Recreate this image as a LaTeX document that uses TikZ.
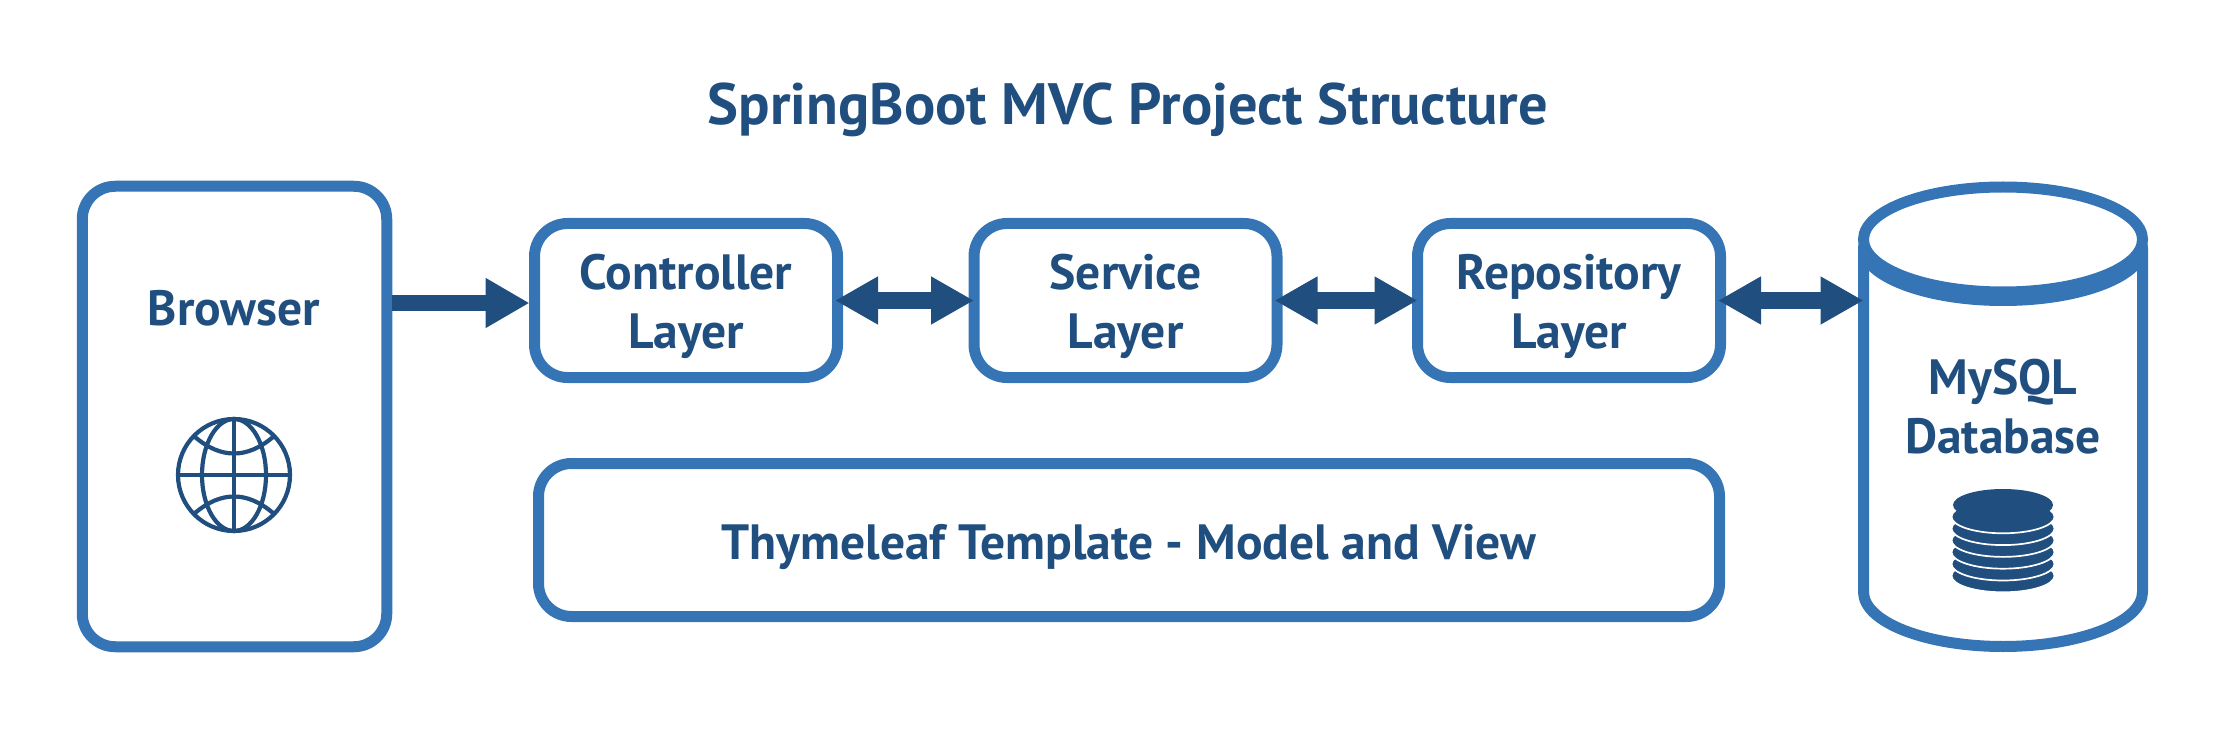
\documentclass[tikz,border=0pt]{standalone}
\usepackage{fontspec}
\setmainfont{PT Sans}
\usetikzlibrary{arrows.meta,positioning,calc}
\definecolor{LayerBlue}{HTML}{3574B5}
\definecolor{LayerDark}{HTML}{1F4E7F}
\tikzset{
  layer node/.style={draw=LayerBlue,fill=white,rounded corners=3.3mm,line width=1.1mm,outer sep=0pt,
    align=center,text=LayerDark,label font,minimum height=15.4mm,minimum width=30.3mm,inner sep=0pt},
  two lines/.style={text height=9.6mm,text depth=0pt},
  label font/.style={font=\fontsize{14.1}{16.8}\selectfont\bfseries},
  plain label/.style={text=LayerDark,label font,align=center,inner sep=0pt},
  flow arrow/.style={-{Triangle[length=4.4mm,width=4.7mm]},draw=LayerDark,line width=1.65mm},
  both arrow/.style={{Triangle[length=4.3mm,width=4.5mm]}-{Triangle[length=4.3mm,width=4.5mm]},draw=LayerDark,line width=1.65mm},
  db line/.style={draw=LayerBlue,line width=1.1mm},
  icon line/.style={draw=LayerDark,line width=.42mm}
}
\begin{document}
\begin{tikzpicture}
  \useasboundingbox (0,0) rectangle (22.26,7.30);
  \node[plain label,font=\fontsize{16.6}{20}\selectfont\bfseries] (title) at (11.28,6.20) {SpringBoot MVC Project Structure};
  \node[layer node,minimum width=30.45mm,minimum height=46.05mm] (browser) at (2.345,3.135) {};
  \node[plain label] (browsertext) at (2.34,4.22) {Browser};
  \node[layer node,two lines] (ctrl) at (6.86,4.295) {Controller\\Layer};
  \node[layer node,two lines] (svc) at (11.255,4.295) {Service\\Layer};
  \node[layer node,two lines] (repo) at (15.69,4.295) {Repository\\Layer};
  \node[layer node,text height=4.9mm,minimum width=118.1mm,minimum height=15.3mm] (view) at (11.29,1.90) {Thymeleaf Template - Model and View};
  \draw[db line,fill=white] (18.635,4.81) -- (18.635,1.38) arc[start angle=180,end angle=360,x radius=1.395,y radius=.545] -- (21.425,4.81);
  \fill[LayerBlue] (20.03,4.81) ellipse[x radius=1.45,y radius=.57];
  \draw[db line,fill=white] (20.03,4.905) ellipse[x radius=1.395,y radius=.525];
  \coordinate (db) at (18.635,4.295);
  \node[plain label] (dbtext) at (20.03,3.235) {MySQL\\Database};
  \draw[flow arrow,shorten <=.5mm] (browser.east |- 0,4.27) -- ($(ctrl.west)+(-.05,-.025)$);
  \draw[both arrow] ($(ctrl.east)+(-.025,0)$) -- (svc.west);
  \draw[both arrow] ($(svc.east)+(-.025,0)$) -- (repo.west);
  \draw[both arrow] ($(repo.east)+(-.025,0)$) -- (db);
  \coordinate (globe) at (2.34,2.55);
  \draw[icon line] (globe) circle[radius=.56];
  \draw[icon line] (globe) ellipse[x radius=.32,y radius=.56];
  \draw[icon line] ($(globe)+(0,.56)$) -- ($(globe)+(0,-.56)$);
  \draw[icon line] ($(globe)+(-.56,0)$) -- ($(globe)+(.56,0)$);
  \draw[icon line] ($(globe)+(-.39,.38)$) .. controls ($(globe)+(-.13,.16)$) and ($(globe)+(.13,.16)$) .. ($(globe)+(.39,.38)$);
  \draw[icon line] ($(globe)+(-.39,-.38)$) .. controls ($(globe)+(-.13,-.16)$) and ($(globe)+(.13,-.16)$) .. ($(globe)+(.39,-.38)$);
  \coordinate (stack) at (20.03,2.25);
  \foreach \i in {6,...,1}
    \draw[draw=white,fill=LayerDark,line width=.17mm] ($(stack)+(0,-\i*.118)$) ellipse[x radius=.515,y radius=.165];
  \fill[LayerDark] (stack) ellipse[x radius=.5,y radius=.16];
\end{tikzpicture}
\end{document}
